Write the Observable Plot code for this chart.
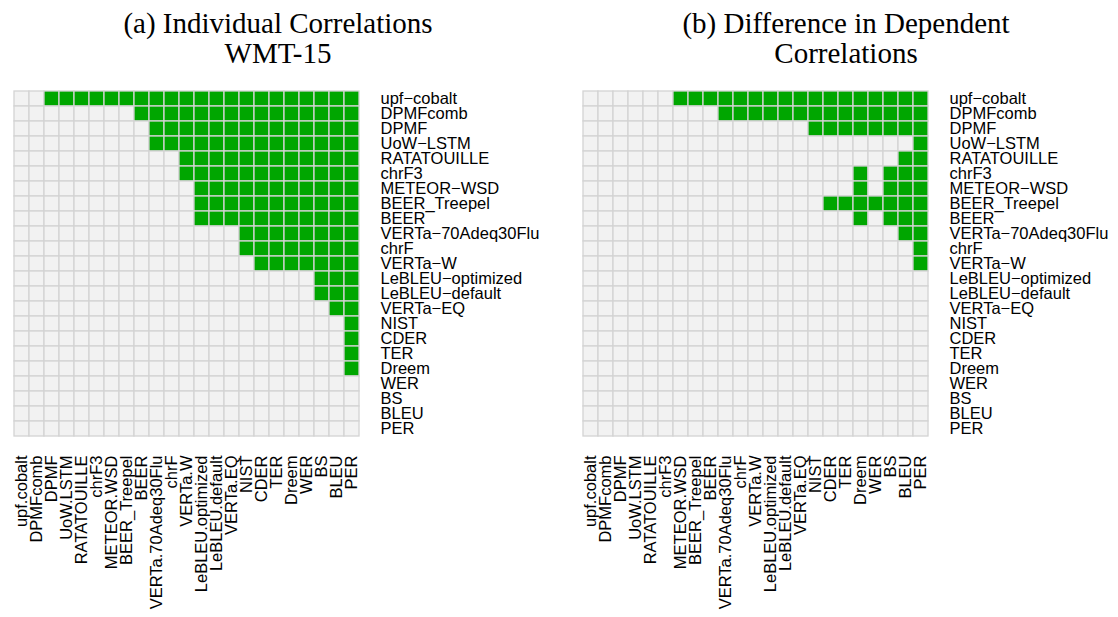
<!DOCTYPE html>
<html>
<head>
<meta charset="utf-8">
<script src="https://cdn.jsdelivr.net/npm/d3@7"></script>
<script src="https://cdn.jsdelivr.net/npm/@observablehq/plot@0.6"></script>
<style>
  html, body { margin: 0; padding: 0; background: #fff; }
  #root { position: relative; width: 1118px; height: 617px; overflow: hidden; background: #fff; }
  .title { position: absolute; font-family: "Liberation Serif", "Times New Roman", serif; font-size: 29px; line-height: 30px; text-align: center; color: #000; width: 500px; white-space: nowrap; }
  .panel { position: absolute; top: 80px; }
</style>
</head>
<body>
<div id="root">
  <div class="title" id="ta" style="left:28px; top:8px;"></div>
  <div class="title" id="tb" style="left:596px; top:8px;"></div>
  <div class="panel" id="pa" style="left:0px;"></div>
  <div class="panel" id="pb" style="left:569px;"></div>
</div>
<script>
// Row labels (metrics, top to bottom)
const rowLabels = ["upf−cobalt","DPMFcomb","DPMF","UoW−LSTM","RATATOUILLE","chrF3","METEOR−WSD","BEER_Treepel","BEER","VERTa−70Adeq30Flu","chrF","VERTa−W","LeBLEU−optimized","LeBLEU−default","VERTa−EQ","NIST","CDER","TER","Dreem","WER","BS","BLEU","PER"];
// Column labels (left to right)
const colLabels = ["upf.cobalt","DPMFcomb","DPMF","UoW.LSTM","RATATOUILLE","chrF3","METEOR.WSD","BEER_Treepel","BEER","VERTa.70Adeq30Flu","chrF","VERTa.W","LeBLEU.optimized","LeBLEU.default","VERTa.EQ","NIST","CDER","TER","Dreem","WER","BS","BLEU","PER"];

// Panel (a): significance matrix, one string per row (1 = significant)
const sigA = [
  "00111 11111 11111 11111 111",
  "00000 00011 11111 11111 111",
  "00000 00001 11111 11111 111",
  "00000 00001 11111 11111 111",
  "00000 00000 01111 11111 111",
  "00000 00000 01111 11111 111",
  "00000 00000 00111 11111 111",
  "00000 00000 00111 11111 111",
  "00000 00000 00111 11111 111",
  "00000 00000 00000 11111 111",
  "00000 00000 00000 11111 111",
  "00000 00000 00000 01111 111",
  "00000 00000 00000 00000 111",
  "00000 00000 00000 00000 111",
  "00000 00000 00000 00000 011",
  "00000 00000 00000 00000 001",
  "00000 00000 00000 00000 001",
  "00000 00000 00000 00000 001",
  "00000 00000 00000 00000 001",
  "00000 00000 00000 00000 000",
  "00000 00000 00000 00000 000",
  "00000 00000 00000 00000 000",
  "00000 00000 00000 00000 000"
];
// Panel (b)
const sigB = [
  "00000 01111 11111 11111 111",
  "00000 00001 11111 11111 111",
  "00000 00000 00000 11111 111",
  "00000 00000 00000 00000 001",
  "00000 00000 00000 00000 011",
  "00000 00000 00000 00010 111",
  "00000 00000 00000 00010 111",
  "00000 00000 00000 01111 111",
  "00000 00000 00000 00010 111",
  "00000 00000 00000 00000 011",
  "00000 00000 00000 00000 001",
  "00000 00000 00000 00000 001",
  "00000 00000 00000 00000 000",
  "00000 00000 00000 00000 000",
  "00000 00000 00000 00000 000",
  "00000 00000 00000 00000 000",
  "00000 00000 00000 00000 000",
  "00000 00000 00000 00000 000",
  "00000 00000 00000 00000 000",
  "00000 00000 00000 00000 000",
  "00000 00000 00000 00000 000",
  "00000 00000 00000 00000 000",
  "00000 00000 00000 00000 000"
];

const titleA = ["(a) Individual Correlations", "WMT-15"];
const titleB = ["(b) Difference in Dependent", "Correlations"];

function toCells(sig) {
  const out = [];
  sig.forEach((s, i) => {
    const bits = s.replace(/ /g, "");
    for (let j = 0; j < colLabels.length; j++) {
      out.push({row: rowLabels[i], col: colLabels[j], sig: bits[j] === "1"});
    }
  });
  return out;
}

function panel(sig) {
  return Plot.plot({
    width: 549,
    height: 537,
    marginTop: 11,
    marginLeft: 14,
    marginRight: 549 - 14 - 345,
    marginBottom: 537 - 11 - 345,
    style: {fontFamily: "'Liberation Sans', Arial, Helvetica, sans-serif", fontSize: "16.5px", color: "#000", background: "transparent", overflow: "visible"},
    x: {domain: colLabels, padding: 0},
    y: {domain: rowLabels, padding: 0},
    marks: [
      Plot.cell(toCells(sig), {x: "col", y: "row", fill: d => d.sig ? "#00A600" : "#F2F2F2", stroke: "#D3D3D3", strokeWidth: 1.3}),
      Plot.axisX({anchor: "bottom", tickSize: 0, tickPadding: 19, tickRotate: -90, fontSize: 16.5, label: null}),
      Plot.axisY({anchor: "right", tickSize: 0, tickPadding: 21, fontSize: 16.5, label: null, textAnchor: "start"})
    ]
  });
}

document.getElementById("ta").innerHTML = titleA.join("<br>");
document.getElementById("tb").innerHTML = titleB.join("<br>");
document.getElementById("pa").appendChild(panel(sigA));
document.getElementById("pb").appendChild(panel(sigB));
</script>
</body>
</html>
